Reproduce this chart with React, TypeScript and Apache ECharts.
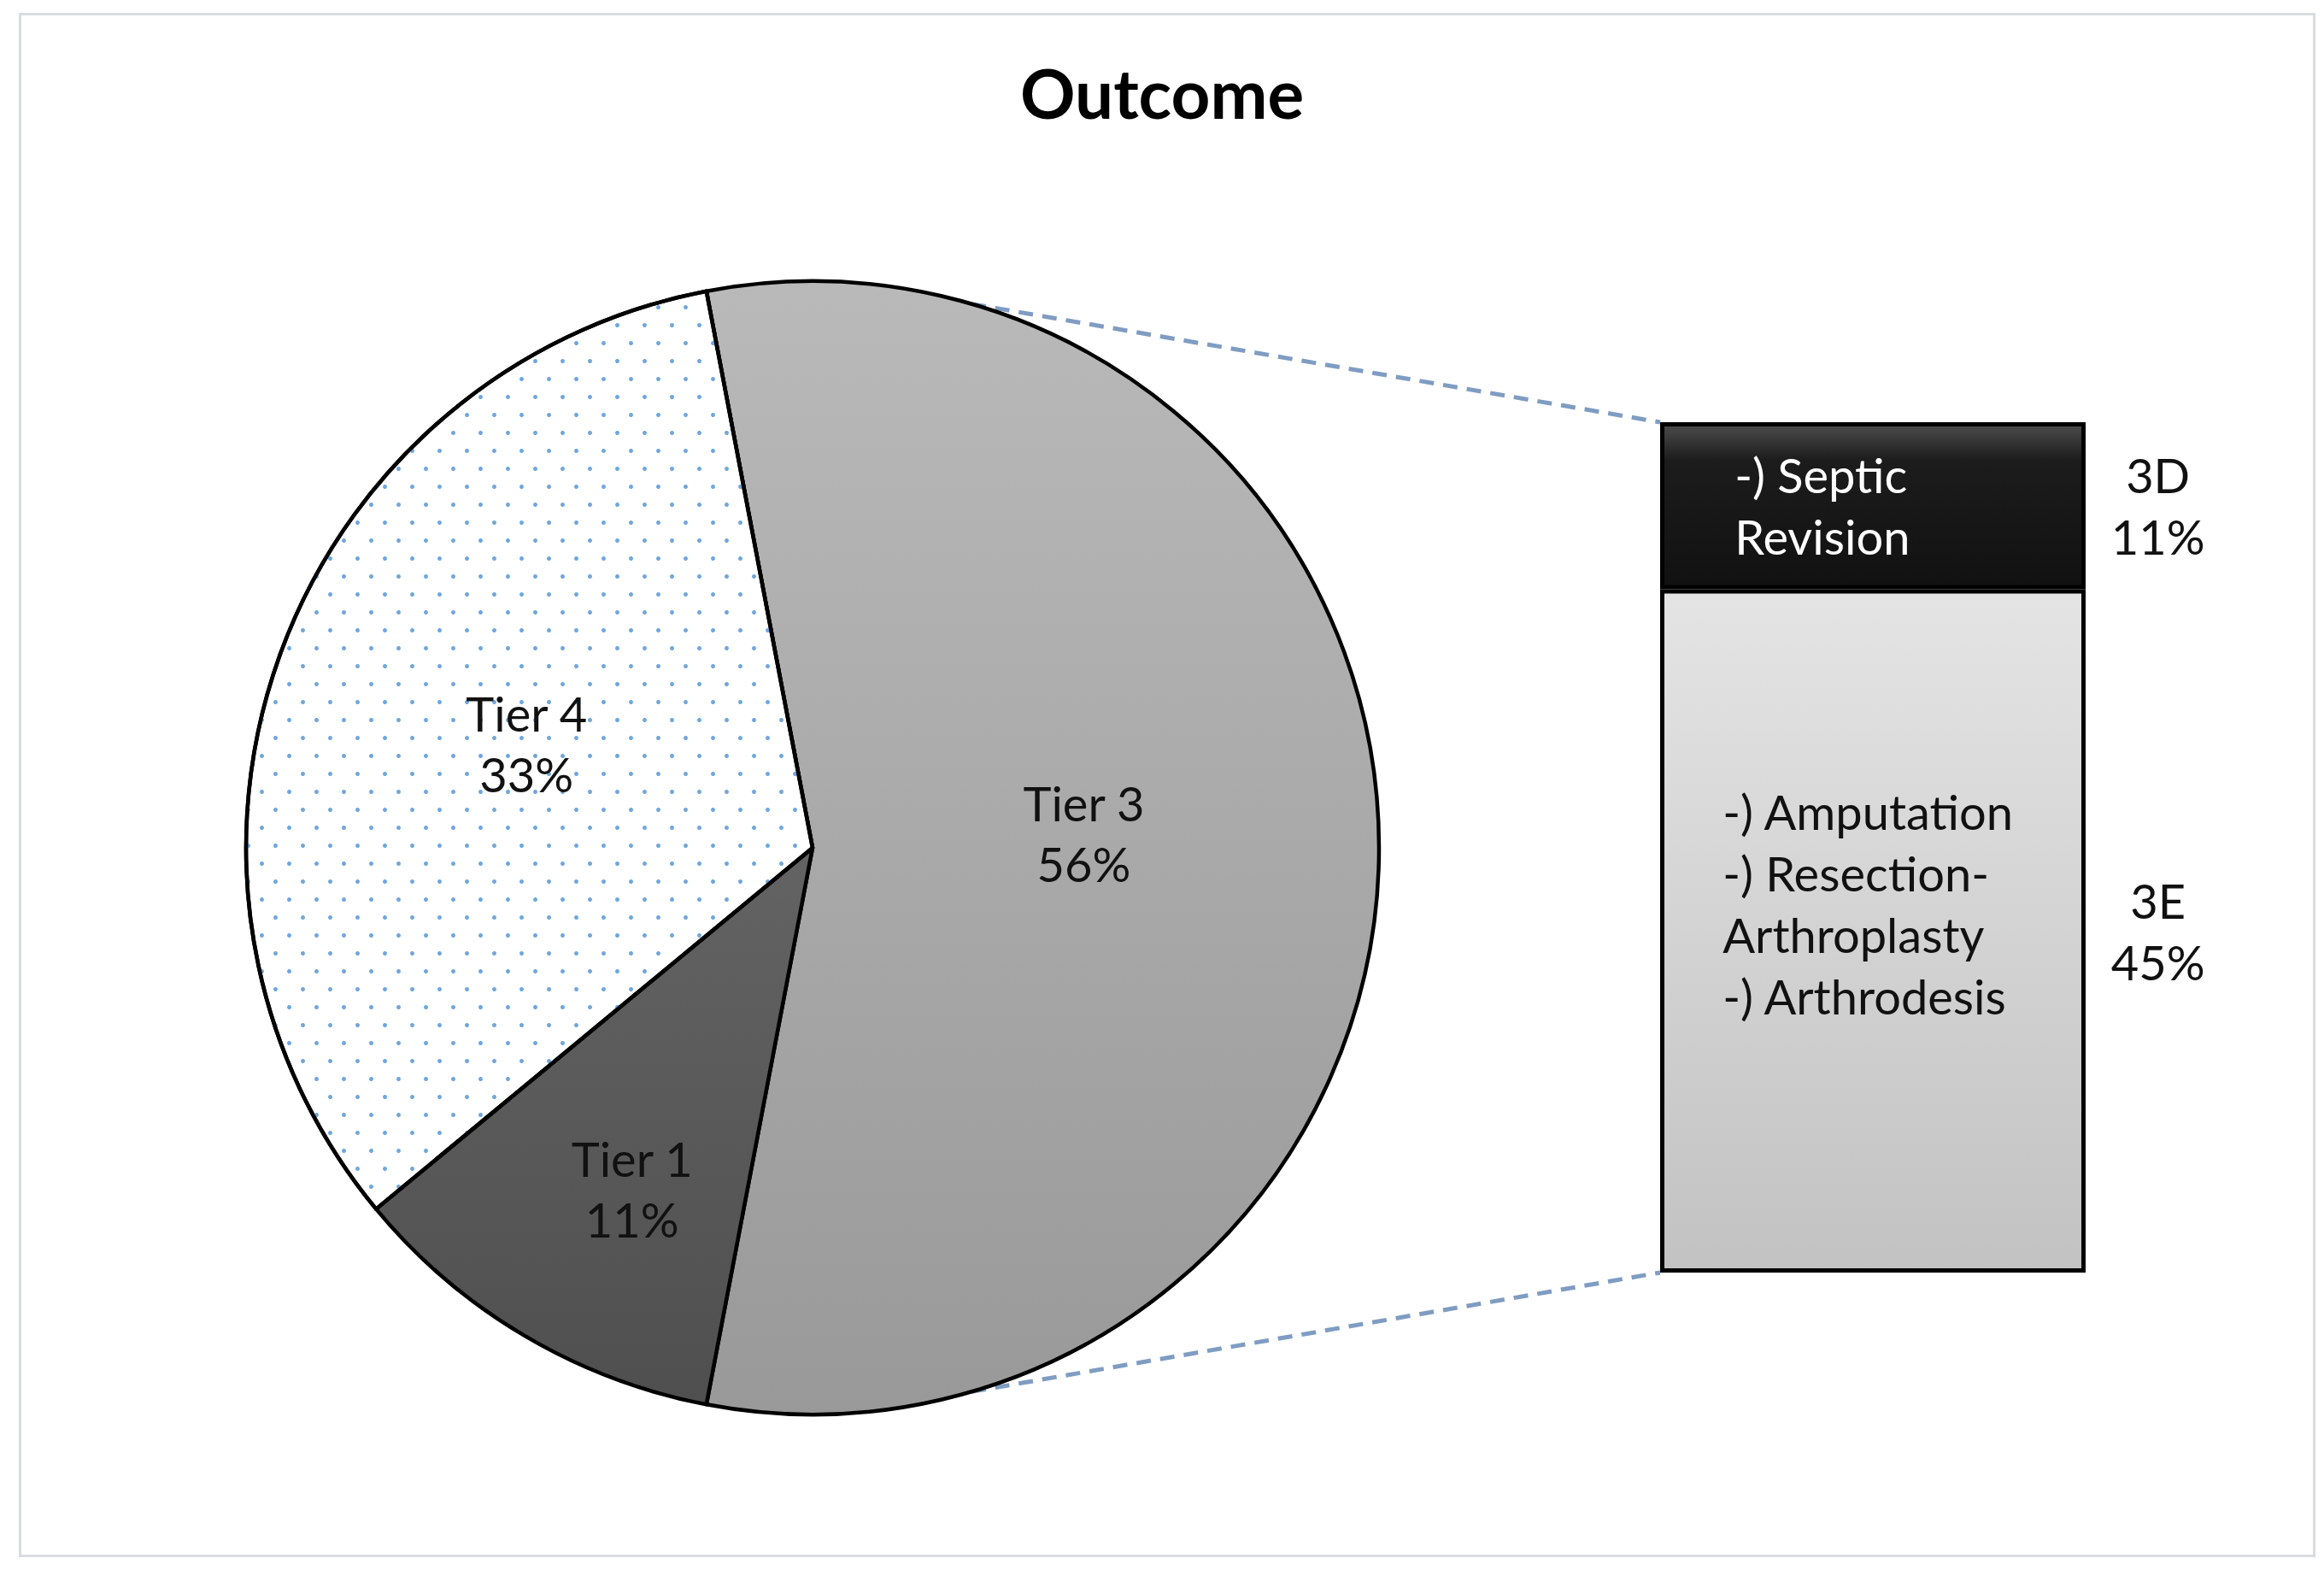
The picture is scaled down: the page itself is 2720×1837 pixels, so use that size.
import React, { useEffect, useRef } from 'react';
import * as echarts from 'echarts';

// ---- data ----
const titleText = 'Outcome';
const pieCategories = ['Tier 3', 'Tier 1', 'Tier 4'];
const piePercents = [56, 11, 33];
const barCategories = ['3E', '3D'];
const barPercents = [45, 11];
const barDescriptions = [
  '-) Amputation\n-) Resection-\nArthroplasty\n-) Arthrodesis',
  '-) Septic\nRevision',
];

// ---- layout / style ----
const W = 2720;
const H = 1837;
const CX = 951;
const CY = 992;
const R = 663;
const BOX = { left: 1943, top: 494, width: 498, height: 995 };
const FONT = 'Lato, "Noto Sans", sans-serif';
const TEXT = '#111111';
const labelOffsets = [
  [-17, -17],
  [-41, 111],
  [-20, -9],
];
const LINK_ANGLE = 73.7; // math degrees of the connector point on the pie

function vgrad(stops: [number, string][]) {
  return new echarts.graphic.LinearGradient(
    0,
    0,
    0,
    1,
    stops.map(([offset, color]) => ({ offset, color }))
  );
}

export default function App() {
  const ref = useRef<HTMLDivElement>(null);

  useEffect(() => {
    document.body.style.margin = '0';
    if (!ref.current) return;
    const chart = echarts.init(ref.current, null, { renderer: 'svg' });

    const pieFills = [
      vgrad([
        [0, '#b9b9b9'],
        [1, '#999999'],
      ]),
      vgrad([
        [0, '#636363'],
        [1, '#4f4f4f'],
      ]),
      '#ffffff',
    ];

    const tier3Span = (piePercents[0] / piePercents.reduce((a, b) => a + b, 0)) * 360;
    const startAngle = tier3Span / 2;

    const a = (LINK_ANGLE * Math.PI) / 180;
    const upper = [CX + R * Math.cos(a), CY - R * Math.sin(a)];
    const lower = [CX + R * Math.cos(a), CY + R * Math.sin(a)];

    const lineStyle = {
      stroke: '#7f9cc2',
      lineWidth: 5,
      lineDash: [17, 11],
    };

    const boxFills = [
      vgrad([
        [0, '#e4e4e4'],
        [1, '#c2c2c2'],
      ]),
      vgrad([
        [0, '#4c4c4c'],
        [0.22, '#1c1c1c'],
        [1, '#111111'],
      ]),
    ];
    const descPositions: any[] = [
      ['14.7%', '46%'],
      ['17.5%', '50%'],
    ];
    const descColors = [TEXT, '#ffffff'];

    const boxSeries = barCategories.map((name, i) => ({
      name,
      type: 'bar',
      stack: 'box',
      barWidth: '100%',
      barGap: '-100%',
      data: [barPercents[i]],
      itemStyle: {
        color: boxFills[i],
        borderColor: '#000000',
        borderWidth: 5,
      },
      label: {
        show: true,
        position: descPositions[i],
        align: 'left',
        verticalAlign: 'middle',
        formatter: barDescriptions[i],
        fontFamily: FONT,
        fontSize: 56,
        lineHeight: 72,
        color: descColors[i],
      },
      silent: true,
      z: 2,
    }));

    const tagSeries = barCategories.map((name, i) => ({
      name: name + '-tag',
      type: 'bar',
      stack: 'tag',
      barWidth: '100%',
      barGap: '-100%',
      data: [barPercents[i]],
      itemStyle: { color: 'rgba(0,0,0,0)' },
      label: {
        show: true,
        position: ['117%', '50%'],
        align: 'center',
        verticalAlign: 'middle',
        formatter: () => `${name}\n${barPercents[i]}%`,
        fontFamily: FONT,
        fontSize: 56,
        lineHeight: 72,
        color: TEXT,
      },
      silent: true,
      z: 3,
    }));

    chart.setOption({
      animation: false,
      backgroundColor: '#ffffff',
      title: {
        text: titleText,
        left: 'center',
        top: 58,
        padding: 0,
        textStyle: {
          fontFamily: FONT,
          fontWeight: 'bold',
          fontSize: 80,
          lineHeight: 100,
          color: '#000000',
        },
      },
      grid: {
        left: BOX.left,
        top: BOX.top,
        width: BOX.width,
        height: BOX.height,
        containLabel: false,
      },
      xAxis: {
        type: 'category',
        data: ['Tier 3'],
        show: false,
      },
      yAxis: {
        type: 'value',
        min: 0,
        max: barPercents.reduce((s, v) => s + v, 0),
        show: false,
      },
      graphic: [
        {
          type: 'rect',
          left: 21,
          top: 14,
          shape: { width: 2685, height: 1804 },
          style: { fill: 'none', stroke: '#d8dbe0', lineWidth: 3 },
          silent: true,
          z: 0,
        },
        {
          type: 'line',
          shape: { x1: upper[0], y1: upper[1], x2: BOX.left, y2: BOX.top },
          style: lineStyle,
          silent: true,
          z: 1,
        },
        {
          type: 'line',
          shape: { x1: lower[0], y1: lower[1], x2: BOX.left, y2: BOX.top + BOX.height },
          style: lineStyle,
          silent: true,
          z: 1,
        },
      ],
      series: [
        {
          type: 'pie',
          center: [CX, CY],
          radius: R,
          startAngle,
          clockwise: true,
          silent: true,
          data: pieCategories.map((name, i) => ({
            name,
            value: piePercents[i],
            itemStyle: {
              color: pieFills[i],
              borderColor: '#000000',
              borderWidth: 4.5,
              ...(i === 2
                ? {
                    decal: {
                      symbol: 'circle',
                      symbolSize: 1,
                      color: 'rgba(75,145,212,0.8)',
                      dashArrayX: [
                        [5, 27],
                        [0, 16, 5, 11],
                      ],
                      dashArrayY: [5, 16],
                    },
                  }
                : {}),
            },
          })),
          label: {
            show: true,
            position: 'inside',
            formatter: '{b}\n{c}%',
            fontFamily: FONT,
            fontSize: 56,
            lineHeight: 71,
            color: TEXT,
          },
          labelLine: { show: false },
          labelLayout: (params: any) => {
            const off = labelOffsets[params.dataIndex] || [0, 0];
            return { dx: off[0], dy: off[1] };
          },
          z: 2,
        },
        ...boxSeries,
        ...tagSeries,
      ],
    });

    return () => {
      chart.dispose();
    };
  }, []);

  return <div ref={ref} style={{ width: W, height: H }} />;
}
